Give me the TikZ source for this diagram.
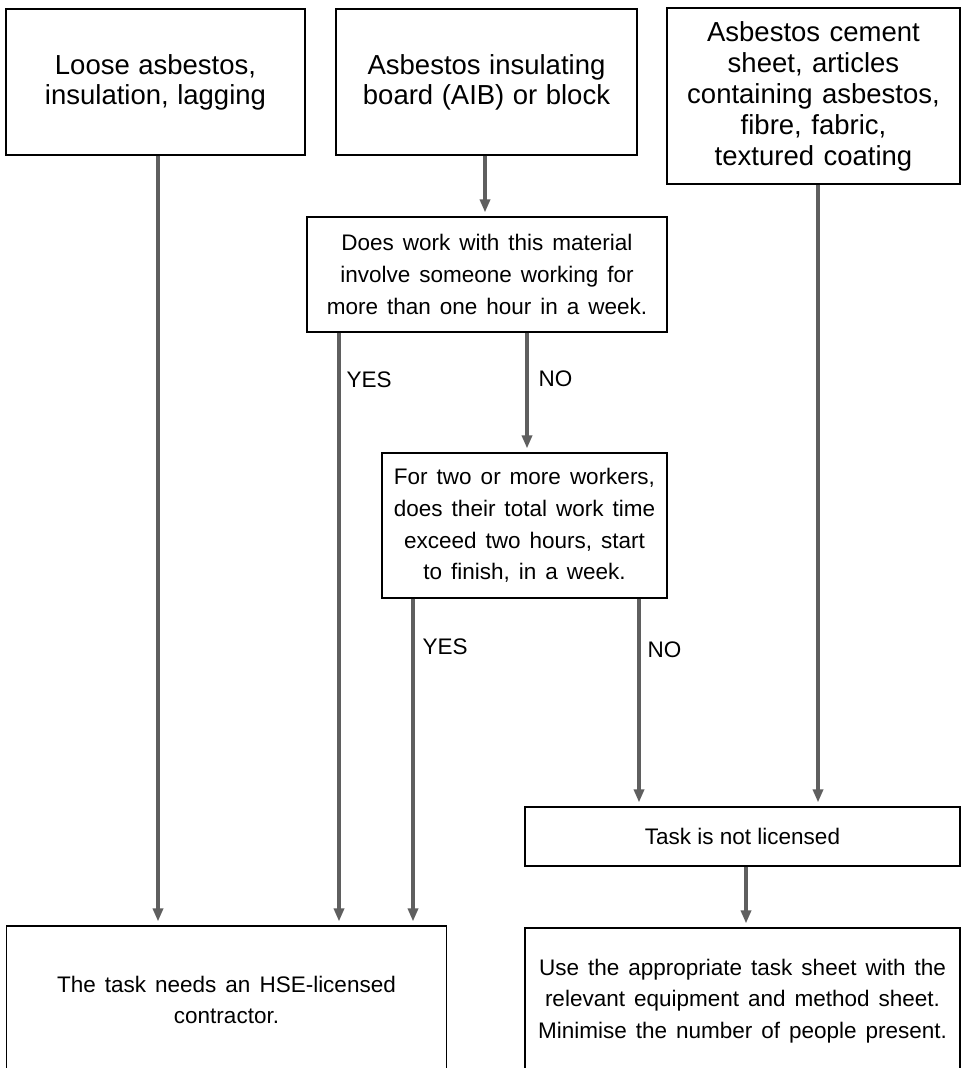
\documentclass[tikz,border=0pt]{standalone}
\usepackage{fontspec}
\setmainfont{Liberation Sans}
\usetikzlibrary{arrows.meta}
\definecolor{conncol}{RGB}{95,95,95}
\begin{document}
\begin{tikzpicture}[x=1pt,y=-1pt,
  box/.style={draw=black, line width=1.2pt, inner sep=0pt, align=center},
  big/.style={font=\fontsize{27.5}{30}\selectfont, execute at begin node={\spaceskip=8.5pt plus 1pt\relax}},
  bigc/.style={font=\fontsize{27.5}{31}\selectfont, execute at begin node={\spaceskip=9.5pt plus 1pt\relax}},
  small/.style={font=\fontsize{22.5}{31.7}\selectfont, execute at begin node={\spaceskip=9pt plus 1pt\relax}},
  conn/.style={draw=conncol, line width=3.2pt, -{Triangle[length=13pt,width=10pt]}, shorten >=4pt},
  lbl/.style={font=\fontsize{22.5}{26}\selectfont, inner sep=0pt, anchor=west}]
\fill[white] (0,0) rectangle (961,1068);
\clip (0,0) rectangle (961,1068);

\node[box,big,minimum width=299pt,minimum height=146pt] (A) at (155.5,82)
  {Loose asbestos,\\insulation, lagging};
\node[box,big,minimum width=301pt,minimum height=146pt] (B) at (486.5,82)
  {Asbestos insulating\\board (AIB) or block};
\node[box,bigc,minimum width=293pt,minimum height=176pt] (C) at (813.5,96)
  {Asbestos cement\\sheet, articles\\containing asbestos,\\fibre, fabric,\\textured coating};
\node[box,small,minimum width=360pt,minimum height=115pt] (D) at (487,274.5)
  {Does work with this material\\involve someone working for\\more than one hour in a week.};
\node[box,small,minimum width=285pt,minimum height=145pt] (E) at (524.5,525.5)
  {For two or more workers,\\does their total work time\\exceed two hours, start\\to finish, in a week.};
\node[box,font=\fontsize{22.5}{27}\selectfont,minimum width=435pt,minimum height=59pt] (F) at (742.5,836.5)
  {Task is not licensed};
\node[box,small,minimum width=440pt,minimum height=148pt] (G) at (226.5,1000)
  {The task needs an HSE-licensed\\contractor.};
\node[box,small,minimum width=435pt,minimum height=146pt] (H) at (742.5,1001)
  {Use the appropriate task sheet with the\\relevant equipment and method sheet.\\Minimise the number of people present.};

\coordinate (c1) at (158,0);
\coordinate (c2) at (485,0);
\coordinate (c3) at (818,0);
\coordinate (c4) at (339,0);
\coordinate (c5) at (527,0);
\coordinate (c6) at (413,0);
\coordinate (c7) at (639,0);
\coordinate (c8) at (746,0);

\draw[conn] (A.south -| c1) -- (G.north -| c1);
\draw[conn] (B.south -| c2) -- (D.north -| c2);
\draw[conn] (C.south -| c3) -- (F.north -| c3);
\draw[conn] (D.south -| c4) -- node[lbl, pos=0.079, xshift=6pt] {YES} (G.north -| c4);
\draw[conn] (D.south -| c5) -- node[lbl, pos=0.388, xshift=10pt] {NO} (E.north -| c5);
\draw[conn] (E.south -| c6) -- node[lbl, pos=0.146, xshift=8pt] {YES} (G.north -| c6);
\draw[conn] (E.south -| c7) -- node[lbl, pos=0.244, xshift=7pt] {NO} (F.north -| c7);
\draw[conn] (F.south -| c8) -- (H.north -| c8);
\end{tikzpicture}
\end{document}
